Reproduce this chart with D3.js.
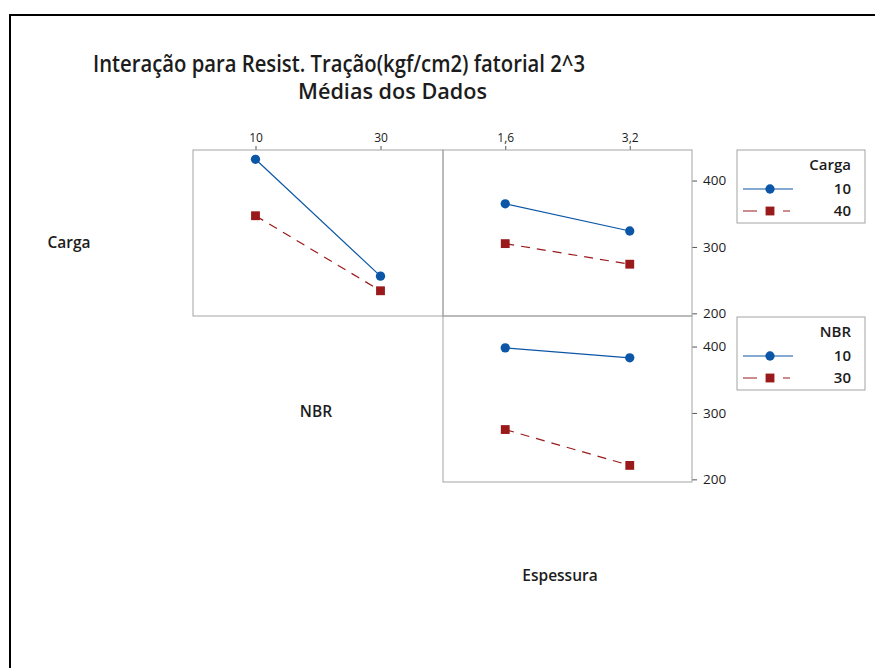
<!DOCTYPE html>
<html>
<head>
<meta charset="utf-8">
<script src="https://cdn.jsdelivr.net/npm/d3@7"></script>
<style>
  html, body { margin: 0; padding: 0; background: #fff; }
  svg { display: block; }
  text { font-family: "Open Sans", "Noto Sans", sans-serif; fill: #1c1c1c; }
</style>
</head>
<body>
<svg id="chart" width="875" height="668"></svg>
<script>
// Factor levels
const cargaLevels = ["10", "40"];
const nbrLevels = ["10", "30"];
const espLevels = ["1,6", "3,2"];

// Mean tensile strength (kgf/cm2) for each two-factor combination
const carga10ByNbr = [432, 256];
const carga40ByNbr = [347, 234];
const carga10ByEsp = [365, 324];
const carga40ByEsp = [305, 274];
const nbr10ByEsp = [398, 383];
const nbr30ByEsp = [275, 221];

const yTicks = [200, 300, 400];

const BLUE = "#0b56a6";
const RED = "#9a1a1c";
const GRID = "#a3a3a3";

const svg = d3.select("#chart");

// Outer frame (only left and top edges fall inside the canvas)
svg.append("rect")
  .attr("x", 10).attr("y", 15).attr("width", 1000).attr("height", 800)
  .attr("fill", "none").attr("stroke", "#000").attr("stroke-width", 2);

// Title block, fitted horizontally to its set width
svg.append("text")
  .attr("x", 93).attr("y", 72)
  .attr("font-size", 22.5).attr("font-weight", 600)
  .attr("textLength", 492).attr("lengthAdjust", "spacingAndGlyphs")
  .text("Interação para Resist. Tração(kgf/cm2) fatorial 2^3");

svg.append("text")
  .attr("x", 298).attr("y", 99)
  .attr("font-size", 21).attr("font-weight", 600)
  .attr("textLength", 189).attr("lengthAdjust", "spacingAndGlyphs")
  .text("Médias dos Dados");

// Matrix layout: column and row boundaries
const colX = [193, 443, 692];
const rowY = [150, 316, 482];
const yDomain = [196, 446];

const styles = [
  { color: BLUE, dash: null, symbol: d3.symbolCircle, size: 68 },
  { color: RED, dash: "9,7", symbol: d3.symbolSquare, size: 78 }
];

const panels = [
  { col: 0, row: 0, levels: nbrLevels, topAxis: true, rightAxis: false,
    series: [carga10ByNbr, carga40ByNbr] },
  { col: 1, row: 0, levels: espLevels, topAxis: true, rightAxis: true,
    series: [carga10ByEsp, carga40ByEsp] },
  { col: 1, row: 1, levels: espLevels, topAxis: false, rightAxis: true,
    series: [nbr10ByEsp, nbr30ByEsp] }
];

panels.forEach(p => {
  const x0 = colX[p.col], x1 = colX[p.col + 1];
  const y0 = rowY[p.row], y1 = rowY[p.row + 1];
  const x = d3.scalePoint().domain(p.levels).range([x0, x1]).padding(0.5);
  const y = d3.scaleLinear().domain(yDomain).range([y1, y0]);
  const g = svg.append("g");

  if (p.topAxis) {
    const ax = g.append("g").attr("transform", `translate(0,${y0})`)
      .call(d3.axisTop(x).tickSize(4).tickPadding(4));
    ax.select(".domain").remove();
    ax.selectAll(".tick line").attr("stroke", "#555");
    ax.selectAll(".tick text").attr("font-size", 12).attr("fill", "#111")
      .style("font-family", '"Open Sans", sans-serif');
  }
  if (p.rightAxis) {
    const ay = g.append("g").attr("transform", `translate(${x1},0)`)
      .call(d3.axisRight(y).tickValues(yTicks).tickSize(5).tickPadding(6));
    ay.select(".domain").remove();
    ay.selectAll(".tick line").attr("stroke", "#555");
    ay.selectAll(".tick text").attr("font-size", 13.5).attr("fill", "#111")
      .attr("font-weight", 500)
      .style("font-family", '"Open Sans", sans-serif');
  }

  g.append("rect")
    .attr("x", x0).attr("y", y0).attr("width", x1 - x0).attr("height", y1 - y0)
    .attr("fill", "none").attr("stroke", GRID).attr("stroke-width", 1);

  p.series.forEach((vals, i) => {
    const st = styles[i];
    const pts = vals.map((v, j) => [x(p.levels[j]), y(v)]);
    g.append("path")
      .attr("d", d3.line()(pts))
      .attr("fill", "none").attr("stroke", st.color).attr("stroke-width", 1.2)
      .attr("stroke-dasharray", st.dash);
    g.selectAll(null).data(pts).join("path")
      .attr("transform", d => `translate(${d[0]},${d[1]})`)
      .attr("d", d3.symbol().type(st.symbol).size(st.size))
      .attr("fill", st.color);
  });
});

// Factor names on the diagonal
const diag = [
  { name: "Carga", x: 69, y: 248 },
  { name: "NBR", x: 316, y: 417 },
  { name: "Espessura", x: 560, y: 581 }
];
svg.selectAll(null).data(diag).join("text")
  .attr("x", d => d.x).attr("y", d => d.y)
  .attr("text-anchor", "middle")
  .attr("font-size", 15.5).attr("font-weight", 600)
  .text(d => d.name);

// Legends
const legends = [
  { title: "Carga", levels: cargaLevels, top: 150 },
  { title: "NBR", levels: nbrLevels, top: 317 }
];
legends.forEach(L => {
  const g = svg.append("g");
  g.append("rect")
    .attr("x", 737).attr("y", L.top).attr("width", 128).attr("height", 73)
    .attr("fill", "none").attr("stroke", GRID).attr("stroke-width", 1);
  g.append("text")
    .attr("x", 851).attr("y", L.top + 20)
    .attr("text-anchor", "end")
    .attr("font-size", 15).attr("font-weight", 600)
    .text(L.title);
  L.levels.forEach((lv, i) => {
    const st = styles[i];
    const cy = L.top + 39 + i * 22;
    g.append("line")
      .attr("x1", 743).attr("x2", 793).attr("y1", cy).attr("y2", cy)
      .attr("stroke", st.color).attr("stroke-width", 1.2)
      .attr("stroke-dasharray", i === 0 ? null : "14,26,7,100");
    g.append("path")
      .attr("transform", `translate(770,${cy})`)
      .attr("d", d3.symbol().type(st.symbol).size(st.size))
      .attr("fill", st.color);
    g.append("text")
      .attr("x", 851).attr("y", cy + 5)
      .attr("text-anchor", "end")
      .attr("font-size", 15).attr("font-weight", 600)
      .text(lv);
  });
});
</script>
</body>
</html>
